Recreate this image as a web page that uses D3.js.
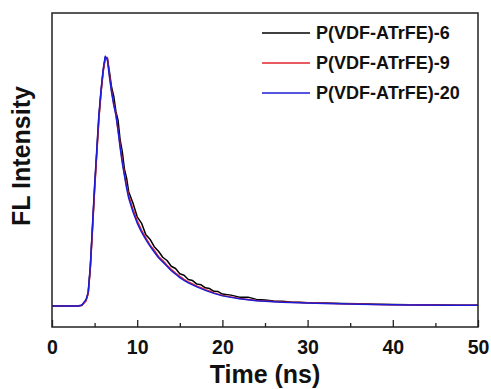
<!DOCTYPE html>
<html>
<head>
<meta charset="utf-8">
<script src="https://d3js.org/d3.v7.min.js"></script>
<style>
  body { margin: 0; background: #fff; }
  text { font-family: "Liberation Sans", Arial, sans-serif; font-weight: bold; fill: #111; }
</style>
</head>
<body>
<div id="chart"></div>
<script>
const width = 491;
const height = 389;

// Time axis (ns), shared by the three decay curves
const times = [0, 3, 3.5, 4, 4.25, 4.5, 4.75, 5, 5.25, 5.5, 5.75, 6, 6.25, 6.5, 6.75, 7, 7.25, 7.5, 7.75, 8,
    8.25, 8.5, 8.75, 9, 9.5, 10, 10.5, 11, 11.5, 12, 12.5, 13, 13.5, 14, 14.5, 15, 15.5, 16, 16.5, 17,
    17.5, 18, 18.5, 19, 19.5, 20, 21, 22, 23, 24, 25, 26, 27, 28, 29, 30, 32, 34, 36, 38,
    40, 42, 44, 46, 48, 50];

// Normalised FL intensity
const fl6 = [0, 0, 0.003, 0.024, 0.052, 0.155, 0.31, 0.47, 0.61, 0.75, 0.85, 0.935, 0.99, 0.985, 0.93, 0.87,
    0.835, 0.775, 0.74, 0.66, 0.615, 0.545, 0.51, 0.455, 0.41, 0.355, 0.33, 0.285, 0.266, 0.236, 0.218, 0.194, 0.181, 0.158,
    0.149, 0.128, 0.122, 0.105, 0.101, 0.087, 0.084, 0.072, 0.069, 0.058, 0.057, 0.047, 0.043, 0.035, 0.035, 0.026,
    0.024, 0.02, 0.019, 0.016, 0.015, 0.013, 0.012, 0.01, 0.009, 0.007, 0.006, 0.005, 0.004, 0.004, 0.003, 0.003];
const fl9 = [0, 0, 0.002, 0.02, 0.048, 0.15, 0.3, 0.46, 0.6, 0.74, 0.85, 0.93, 0.985, 0.99, 0.92, 0.855,
    0.805, 0.765, 0.7, 0.64, 0.58, 0.525, 0.48, 0.44, 0.385, 0.34, 0.302, 0.272, 0.243, 0.222, 0.197, 0.181, 0.162, 0.146,
    0.131, 0.118, 0.106, 0.096, 0.088, 0.079, 0.073, 0.065, 0.06, 0.052, 0.047, 0.042, 0.036, 0.03, 0.026, 0.022,
    0.02, 0.018, 0.016, 0.015, 0.014, 0.013, 0.011, 0.009, 0.008, 0.006, 0.005, 0.005, 0.004, 0.003, 0.003, 0.003];
const fl20 = [0, 0, 0.003, 0.025, 0.055, 0.16, 0.32, 0.48, 0.62, 0.76, 0.86, 0.94, 0.995, 0.98, 0.91, 0.85,
    0.8, 0.76, 0.7, 0.63, 0.57, 0.52, 0.47, 0.43, 0.375, 0.33, 0.295, 0.265, 0.238, 0.215, 0.192, 0.175, 0.158, 0.14,
    0.127, 0.113, 0.102, 0.092, 0.084, 0.076, 0.069, 0.062, 0.056, 0.05, 0.045, 0.04, 0.034, 0.029, 0.025, 0.021,
    0.019, 0.017, 0.015, 0.014, 0.013, 0.012, 0.01, 0.009, 0.007, 0.006, 0.005, 0.004, 0.004, 0.003, 0.003, 0.003];

const seriesNames = ["P(VDF-ATrFE)-6", "P(VDF-ATrFE)-9", "P(VDF-ATrFE)-20"];
const seriesValues = [fl6, fl9, fl20];
const seriesColors = ["#000000", "#e3242b", "#1c1cd6"];

const xTicks = [0, 10, 20, 30, 40, 50];
const xMinorTicks = [5, 15, 25, 35, 45];

const margin = { top: 13, right: 13, bottom: 62, left: 52 };
const plotW = width - margin.left - margin.right;
const plotH = height - margin.top - margin.bottom;

const svg = d3.select("#chart")
    .append("svg")
    .attr("width", width)
    .attr("height", height);

const g = svg.append("g")
    .attr("transform", `translate(${margin.left},${margin.top})`);

const x = d3.scaleLinear()
    .domain([0, 50])
    .range([0, plotW]);

const y = d3.scaleLinear()
    .domain([-0.084, 1.167])
    .range([plotH, 0]);

// Curves (black under, blue on top)
const line = d3.line()
    .x(d => x(d[0]))
    .y(d => y(d[1]));

seriesValues.forEach((vals, i) => {
    g.append("path")
        .datum(times.map((t, j) => [t, vals[j]]))
        .attr("fill", "none")
        .attr("stroke", seriesColors[i])
        .attr("stroke-width", 1.5)
        .attr("stroke-linejoin", "round")
        .attr("d", line);
});

// Bottom axis with inward ticks
const xAxis = g.append("g")
    .attr("transform", `translate(0,${plotH})`)
    .call(d3.axisBottom(x).tickValues(xTicks).tickSizeInner(-7).tickSizeOuter(0).tickPadding(13));
xAxis.select(".domain").remove();
xAxis.selectAll("line").attr("stroke", "#222").attr("stroke-width", 1.3);
xAxis.selectAll("text")
    .attr("font-size", "19.5px")
    .attr("font-family", "Liberation Sans, Arial, sans-serif")
    .attr("font-weight", "bold")
    .attr("fill", "#111");

g.append("g")
    .attr("transform", `translate(0,${plotH})`)
    .call(d3.axisBottom(x).tickValues(xMinorTicks).tickSizeInner(-4).tickSizeOuter(0).tickFormat(""))
    .call(a => a.select(".domain").remove())
    .selectAll("line").attr("stroke", "#222").attr("stroke-width", 1.3);

// Frame
g.append("rect")
    .attr("width", plotW)
    .attr("height", plotH)
    .attr("fill", "none")
    .attr("stroke", "#222")
    .attr("stroke-width", 1.5);

// Axis titles
svg.append("text")
    .attr("x", margin.left + plotW / 2)
    .attr("y", 383)
    .attr("text-anchor", "middle")
    .attr("font-size", "25px")
    .text("Time (ns)");

svg.append("text")
    .attr("transform", "translate(30,156) rotate(-90)")
    .attr("text-anchor", "middle")
    .attr("font-size", "25px")
    .text("FL Intensity");

// Legend
const legend = svg.append("g")
    .attr("transform", "translate(262,33)");

legend.selectAll("line")
    .data(seriesNames)
    .enter()
    .append("line")
    .attr("x1", 0)
    .attr("x2", 48)
    .attr("y1", (d, i) => i * 30)
    .attr("y2", (d, i) => i * 30)
    .attr("stroke", (d, i) => seriesColors[i])
    .attr("stroke-width", 1.5);

legend.selectAll("text")
    .data(seriesNames)
    .enter()
    .append("text")
    .attr("x", 54)
    .attr("y", (d, i) => i * 30)
    .attr("dy", "0.36em")
    .attr("font-size", "18px")
    .text(d => d);
</script>
</body>
</html>
